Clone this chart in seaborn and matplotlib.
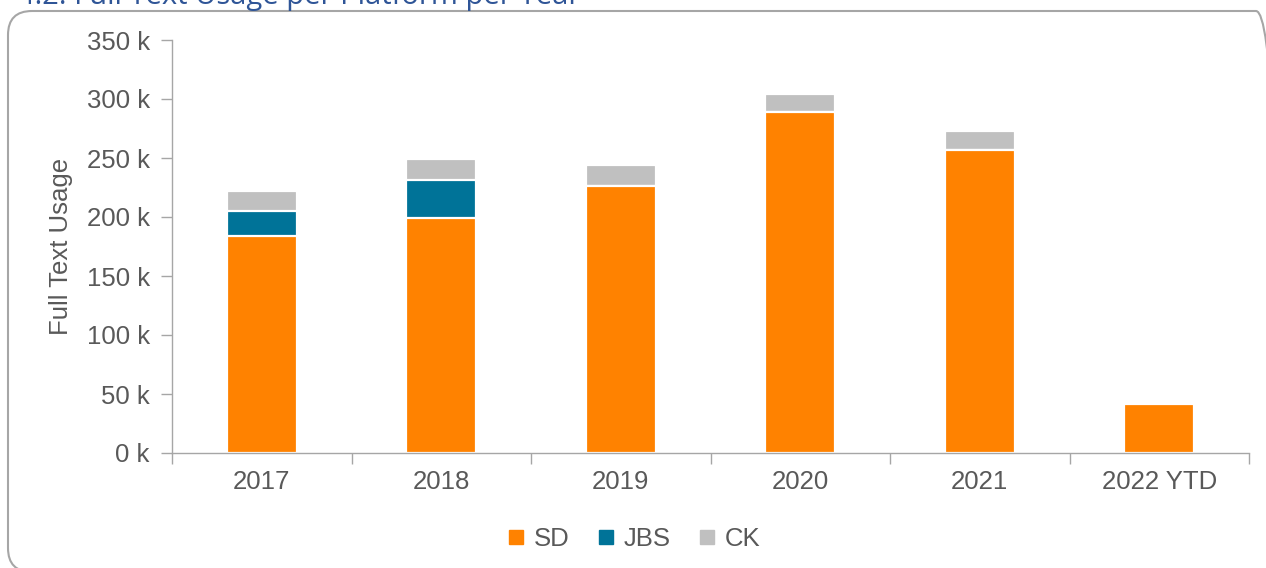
import matplotlib
matplotlib.use("Agg")
import matplotlib.pyplot as plt
import seaborn as sns
import pandas as pd
import numpy as np
from matplotlib.patches import FancyBboxPatch
from matplotlib.lines import Line2D

years = ["2017", "2018", "2019", "2020", "2021", "2022 YTD"]
sd = [184, 199, 226, 289, 257, 41.5]
jbs = [21, 32, 0, 0, 0, 0]
ck = [17, 18, 18, 15, 16, 0]
series_names = ["SD", "JBS", "CK"]
colors = {"SD": "#FF8200", "JBS": "#007398", "CK": "#C0C0C0"}
yticks = [0, 50, 100, 150, 200, 250, 300, 350]

sns.set_theme(style="white")
plt.rcParams["font.family"] = ["Liberation Sans", "DejaVu Sans"]
text_col = "#595959"
spine_col = "#A6A6A6"
fs = 18.5

fig = plt.figure(figsize=(12.66, 5.68), dpi=100)
ax = fig.add_axes([172/1266, 1-453/568, (1249-172)/1266, (453-40)/568])

df = pd.DataFrame({"year": years, "SD": sd, "JBS": jbs, "CK": ck})
df["c_sd"] = df["SD"]
df["c_jbs"] = df["SD"] + df["JBS"]
df["c_ck"] = df["SD"] + df["JBS"] + df["CK"]

for col, name in [("c_ck", "CK"), ("c_jbs", "JBS"), ("c_sd", "SD")]:
    sns.barplot(data=df, x="year", y=col, color=colors[name], width=0.39,
                edgecolor="white", linewidth=1.6, saturation=1, ax=ax)

ax.set_xlim(-0.5, 5.5)
ax.set_ylim(0, 350)
ax.set_yticks(yticks)
ax.set_yticklabels([f"{v} k" for v in yticks])
ax.set_xlabel("")
ax.set_ylabel("Full Text Usage", fontsize=fs, color=text_col, labelpad=10)

ax.set_xticks(np.arange(-0.5, 6, 1), minor=True)
ax.tick_params(axis="x", which="major", length=0, pad=12, labelsize=fs, labelcolor=text_col)
ax.tick_params(axis="x", which="minor", length=8, width=1, color=spine_col, direction="out")
ax.tick_params(axis="y", which="major", length=8, width=1, color=spine_col, direction="out",
               labelsize=fs, labelcolor=text_col, pad=8)
ax.tick_params(axis="x", which="both", bottom=True)
ax.tick_params(axis="y", which="both", left=True)

for s in ["top", "right"]:
    ax.spines[s].set_visible(False)
for s in ["left", "bottom"]:
    ax.spines[s].set_color(spine_col)
    ax.spines[s].set_linewidth(1)

handles = [Line2D([0], [0], marker="s", linestyle="none", markersize=9.5,
                  markerfacecolor=colors[n], markeredgecolor=colors[n], label=n)
           for n in series_names]
fig.legend(handles=handles, loc="center", bbox_to_anchor=(0.5, 1-539/568), ncol=3,
           frameon=False, fontsize=fs, labelcolor=text_col, handletextpad=0.3,
           columnspacing=1.0, handlelength=0.8)

# rounded frame in display pixels
frame = FancyBboxPatch((8, -4), 1272, 561,
                       boxstyle="round,pad=0,rounding_size=24",
                       transform=None, fill=False,
                       edgecolor="#A6A6A6", linewidth=1.5)
fig.patches.append(frame)

fig.text(18/1266, 1-4/568, "4.2: Full Text Usage per Platform per Year",
         fontsize=21, color="#2F5597", ha="left", va="baseline",
         family=["Open Sans", "DejaVu Sans"])

fig.savefig("out.png", dpi=100)
